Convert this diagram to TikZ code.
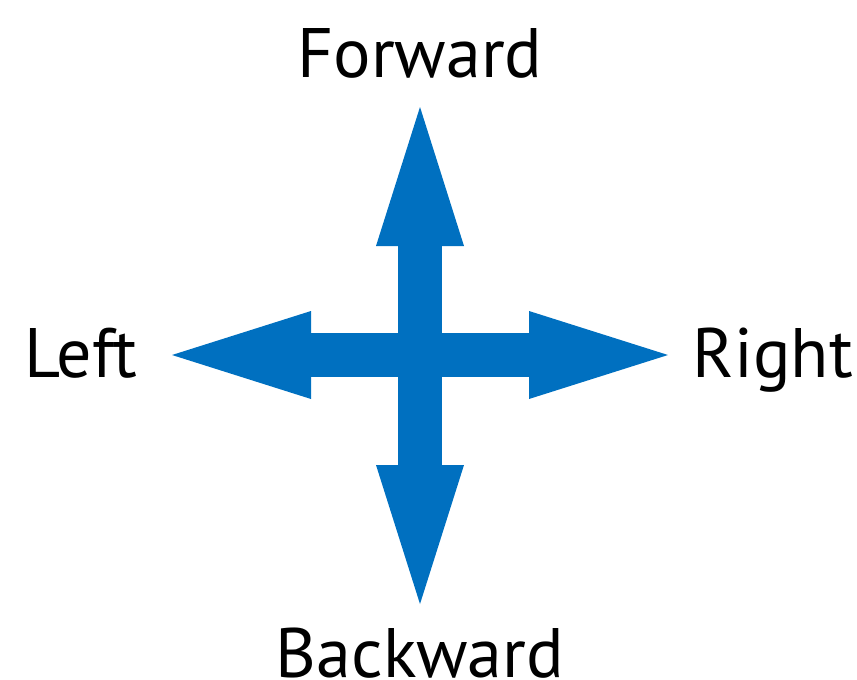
\documentclass[tikz,border=0pt]{standalone}
\usepackage{fontspec}
\setmainfont{PT Sans}
\usepackage{tikz}
\usetikzlibrary{arrows.meta}
\definecolor{arrowblue}{HTML}{0070C0}

\begin{document}
\begin{tikzpicture}[x=1pt,y=-1pt]
	 \tikzstyle{word}=[inner sep=0pt,anchor=base,font=\fontsize{70}{80}\selectfont]
	 \tikzstyle{bigarrow} = [draw=arrowblue,line width=44pt,-{Triangle[length=139pt,width=88pt,line width'=0pt,fill=arrowblue]}]
	 \useasboundingbox (0,0) rectangle (857,680);
	 \coordinate (c) at (420,355);
	 \coordinate (fwd) at (420,107);
	 \coordinate (bwd) at (420,604);
	 \coordinate (lft) at (172,355);
	 \coordinate (rgt) at (668,355);
	 \node[word] (tfwd) at (420,77) {Forward};
	 \node[word] (tbwd) at (420,677) {Backward};
	 \node[word] (tlft) at (81,377) {Left};
	 \node[word] (trgt) at (773,377) {Right};
	 \draw[bigarrow] (c) -- (fwd);
	 \draw[bigarrow] (c) -- (bwd);
	 \draw[bigarrow] (c) -- (lft);
	 \draw[bigarrow] (c) -- (rgt);
 \end{tikzpicture}
\end{document}
